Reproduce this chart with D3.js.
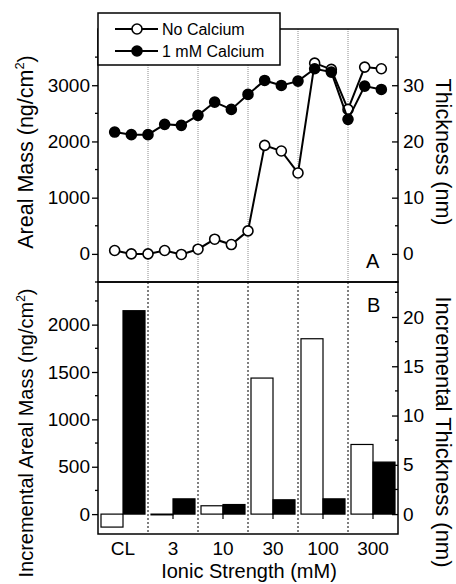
<!DOCTYPE html>
<html>
<head>
<meta charset="utf-8">
<script src="https://cdn.jsdelivr.net/npm/d3@7"></script>
<style>
  html, body { margin: 0; padding: 0; background: #fff; }
  svg { display: block; font-family: "Liberation Sans", Arial, sans-serif; }
</style>
</head>
<body>
<svg id="chart" width="456" height="584"></svg>
<script>
// ---------- DATA ----------
const categories = ["CL", "3", "10", "30", "100", "300"];
const pointIndex = [1, 2, 3, 4, 5, 6, 7, 8, 9, 10, 11, 12, 13, 14, 15, 16, 17];
const noCalciumMass = [60, 0, 0, 60, -10, 83, 261, 166, 409, 1930, 1830, 1440, 3393, 3281, 2570, 3322, 3293];
const calciumMass   = [2167, 2121, 2121, 2304, 2286, 2464, 2700, 2570, 2837, 3085, 2996, 3073, 3293, 3233, 2393, 2984, 2925];
const incNoCalcium  = [-137, -8, 88, 1436, 1851, 735];
const incCalcium    = [2147, 161, 101, 151, 161, 549];
const seriesNames   = ["No Calcium", "1 mM Calcium"];
const topLeftTicks  = [0, 1000, 2000, 3000];
const topRightTicks = [0, 10, 20, 30];
const botLeftTicks  = [0, 500, 1000, 1500, 2000];
const botRightTicks = [0, 5, 10, 15, 20];

// ---------- LAYOUT ----------
const svg = d3.select("#chart");
const L = 98, R = 398, T1 = 29, B1 = 282, B2 = 534;

const x = d3.scaleLinear().domain([0, 18]).range([L, R]);
const band = d3.scaleBand().domain(categories).range([L, R]);
const sub = d3.scaleBand().domain(["none", "ca"]).range([3, band.bandwidth() - 3]);

const yTop = d3.scaleLinear().domain([-500, 4000]).range([B1, T1]);
const yTopR = d3.scaleLinear().domain([-5, 40]).range([B1, T1]);
const yBot = d3.scaleLinear().domain([-210, 2450]).range([B2, B1]);
const yBotR = d3.scaleLinear().domain([-2.02, 23.55]).range([B2, B1]);

const tickFont = 19, titleFont = 20;

// ---------- GRID (dotted group separators) ----------
const seps = categories.slice(1).map(c => band(c));
svg.append("g").selectAll("line").data(seps).join("line")
  .attr("x1", d => d).attr("x2", d => d)
  .attr("y1", T1).attr("y2", B1)
  .attr("stroke", "#8a8a8a").attr("stroke-width", 1).attr("stroke-dasharray", "1,1");
svg.append("g").selectAll("line").data(seps).join("line")
  .attr("x1", d => d).attr("x2", d => d)
  .attr("y1", B1).attr("y2", B2)
  .attr("stroke", "#000").attr("stroke-width", 1).attr("stroke-dasharray", "2,2");

// ---------- AXES ----------
function styleAxis(g) {
  g.select(".domain").remove();
  g.selectAll("line").attr("stroke", "#000").attr("stroke-width", 1.3);
  g.selectAll("text").attr("font-size", tickFont).attr("fill", "#000")
    .attr("font-family", "Liberation Sans, Arial, sans-serif");
}
function minor(g, scale, vals, side, len) {
  g.selectAll(null).data(vals).join("line")
    .attr("x1", 0).attr("x2", side * len)
    .attr("y1", d => scale(d)).attr("y2", d => scale(d))
    .attr("stroke", "#000").attr("stroke-width", 1.3);
}

// top left
const gTL = svg.append("g").attr("transform", `translate(${L},0)`)
  .call(d3.axisLeft(yTop).tickValues(topLeftTicks).tickSize(6).tickPadding(2).tickFormat(d3.format("d")));
styleAxis(gTL);
minor(gTL, yTop, [-500, 500, 1500, 2500, 3500], -1, 3);

// top right (inward ticks)
const gTR = svg.append("g").attr("transform", `translate(${R},0)`)
  .call(d3.axisRight(yTopR).tickValues(topRightTicks).tickSizeInner(-6).tickSizeOuter(0).tickPadding(5).tickFormat(d3.format("d")));
styleAxis(gTR);
minor(gTR, yTopR, [-5, 5, 15, 25, 35], -1, 3);

// bottom left
const gBL = svg.append("g").attr("transform", `translate(${L},0)`)
  .call(d3.axisLeft(yBot).tickValues(botLeftTicks).tickSize(6).tickPadding(2).tickFormat(d3.format("d")));
styleAxis(gBL);
minor(gBL, yBot, [250, 750, 1250, 1750, 2250], -1, 3);

// bottom right (inward ticks)
const gBR = svg.append("g").attr("transform", `translate(${R},0)`)
  .call(d3.axisRight(yBotR).tickValues(botRightTicks).tickSizeInner(-6).tickSizeOuter(0).tickPadding(5).tickFormat(d3.format("d")));
styleAxis(gBR);
minor(gBR, yBotR, [2.5, 7.5, 12.5, 17.5, 22.5], -1, 3);

// bottom category axis
const gX = svg.append("g").attr("transform", `translate(0,${B2})`)
  .call(d3.axisBottom(band).tickSize(0).tickPadding(8));
styleAxis(gX);
gX.selectAll("text").attr("dy", "0.71em").attr("y", 8);

// ---------- BARS ----------
const barData = categories.map((c, i) => ({ c, none: incNoCalcium[i], ca: incCalcium[i] }));
const bars = svg.append("g");
["none", "ca"].forEach(k => {
  bars.selectAll(null).data(barData).join("rect")
    .attr("x", d => band(d.c) + sub(k))
    .attr("width", sub.bandwidth())
    .attr("y", d => Math.min(yBot(d[k]), yBot(0)))
    .attr("height", d => Math.abs(yBot(d[k]) - yBot(0)))
    .attr("fill", k === "ca" ? "#000" : "#fff")
    .attr("stroke", "#000").attr("stroke-width", 1.2);
});
// small ticks at zero line
svg.append("g").selectAll("line").data(categories.slice(1)).join("line")
  .attr("x1", d => band(d) + band.bandwidth() / 2).attr("x2", d => band(d) + band.bandwidth() / 2)
  .attr("y1", yBot(0)).attr("y2", yBot(0) + 5)
  .attr("stroke", "#000").attr("stroke-width", 1.2);

// ---------- LINES ----------
const line = d3.line().x((d, i) => x(pointIndex[i])).y(d => yTop(d));
[noCalciumMass, calciumMass].forEach((vals, si) => {
  svg.append("path").datum(vals).attr("d", line)
    .attr("fill", "none").attr("stroke", "#000").attr("stroke-width", 2);
  svg.append("g").selectAll("circle").data(vals).join("circle")
    .attr("cx", (d, i) => x(pointIndex[i])).attr("cy", d => yTop(d)).attr("r", 5)
    .attr("fill", si === 0 ? "#fff" : "#000").attr("stroke", "#000").attr("stroke-width", 1.6);
});

// ---------- FRAMES ----------
svg.append("rect").attr("x", L).attr("y", T1).attr("width", R - L).attr("height", B1 - T1)
  .attr("fill", "none").attr("stroke", "#000").attr("stroke-width", 1.5);
svg.append("rect").attr("x", L).attr("y", B1).attr("width", R - L).attr("height", B2 - B1)
  .attr("fill", "none").attr("stroke", "#000").attr("stroke-width", 1.5);

// ---------- LEGEND ----------
const lg = svg.append("g");
lg.append("rect").attr("x", 98).attr("y", 13).attr("width", 182).attr("height", 52)
  .attr("fill", "#fff").attr("stroke", "#000").attr("stroke-width", 1.5);
seriesNames.forEach((name, i) => {
  const yy = 29 + i * 22;
  lg.append("line").attr("x1", 115).attr("x2", 158).attr("y1", yy).attr("y2", yy)
    .attr("stroke", "#000").attr("stroke-width", 2);
  lg.append("circle").attr("cx", 137).attr("cy", yy).attr("r", 5)
    .attr("fill", i === 0 ? "#fff" : "#000").attr("stroke", "#000").attr("stroke-width", 1.6);
  lg.append("text").attr("x", 162).attr("y", yy).attr("dy", "0.36em")
    .attr("font-size", 16).text(name);
});

// ---------- PANEL LABELS ----------
svg.append("text").attr("x", 366).attr("y", 268).attr("font-size", 20).text("A");
svg.append("text").attr("x", 367).attr("y", 312).attr("font-size", 20).text("B");

// ---------- AXIS TITLES ----------
function rotTitle(xp, yp, angle, size, parts) {
  const t = svg.append("text").attr("transform", `translate(${xp},${yp}) rotate(${angle})`)
    .attr("text-anchor", "middle").attr("font-size", size);
  parts.forEach(p => {
    const s = t.append("tspan").text(p.t);
    if (p.sup) s.attr("font-size", size * 0.6).attr("dy", -size * 0.42);
    if (p.down) s.attr("dy", size * 0.42);
  });
  return t;
}
rotTitle(33, 152, -90, 21.5, [{ t: "Areal Mass (ng/cm" }, { t: "2", sup: true }, { t: ")", down: true }]);
rotTitle(33, 433, -90, 20, [{ t: "Incremental Areal Mass (ng/cm" }, { t: "2", sup: true }, { t: ")", down: true }]);
rotTitle(436, 152, 90, 21.5, [{ t: "Thickness (nm)" }]);
rotTitle(436, 432, 90, 22, [{ t: "Incremental Thickness (nm)" }]);

svg.append("text").attr("x", 249).attr("y", 578).attr("text-anchor", "middle")
  .attr("font-size", titleFont).text("Ionic Strength (mM)");
</script>
</body>
</html>
